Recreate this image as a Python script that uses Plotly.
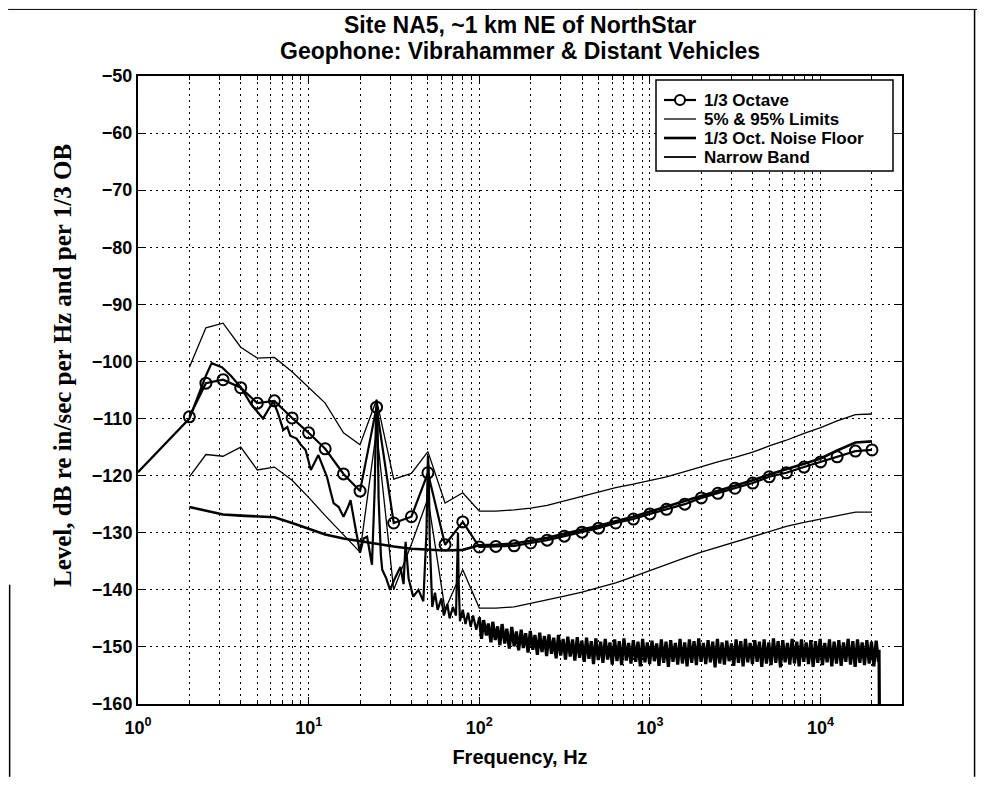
import plotly.graph_objects as go

# 1/3 octave band centre frequencies, Hz
toct_freq = [2, 2.5, 3.15, 4, 5, 6.3, 8, 10, 12.5, 16, 20, 25, 31.5, 40, 50, 63, 80,
             100, 125, 160, 200, 250, 315, 400, 500, 630, 800, 1000, 1250, 1600, 2000,
             2500, 3150, 4000, 5000, 6300, 8000, 10000, 12500, 16000, 20000]

toct_level = [-109.7, -103.8, -103.2, -104.6, -107.3, -106.9, -109.9, -112.5, -115.3, -119.7,
              -122.7, -108.0, -128.3, -127.2, -119.5, -132.1, -128.1, -132.5, -132.4, -132.3,
              -131.8, -131.3, -130.6, -129.9, -129.2, -128.3, -127.6, -126.7, -125.9, -125.0,
              -123.9, -123.1, -122.2, -121.3, -120.2, -119.5, -118.5, -117.6, -116.7, -115.7,
              -115.5]

upper_95 = [-101.0, -94.1, -93.3, -97.5, -99.4, -99.3, -101.8, -104.5, -107.3, -112.5,
            -114.6, -106.7, -120.6, -119.6, -115.8, -124.8, -123.0, -126.2, -126.2, -126.0,
            -125.7, -125.2, -124.4, -123.6, -122.8, -122.1, -121.5, -120.9, -120.2, -119.3,
            -118.4, -117.6, -116.8, -115.9, -114.8, -113.8, -112.6, -111.6, -110.4, -109.3,
            -109.2]

lower_5 = [-120.2, -116.3, -116.6, -115.0, -119.0, -118.5, -120.8, -123.8, -127.0, -130.3,
           -133.4, -112.0, -140.0, -132.0, -124.0, -143.5, -136.5, -143.2, -143.2, -143.0,
           -142.4, -141.8, -141.1, -140.4, -139.6, -138.8, -137.7, -136.6, -135.5, -134.4,
           -133.4, -132.5, -131.6, -130.7, -129.8, -128.9, -128.2, -127.6, -127.0, -126.4,
           -126.4]

noise_floor = [-125.5, -126.2, -126.8, -127.0, -127.1, -127.3, -128.3, -129.3, -130.3, -131.0,
               -131.5, -132.0, -132.4, -132.8, -133.0, -133.1, -133.0, -132.2, -132.1, -131.9,
               -131.4, -130.9, -130.2, -129.5, -128.8, -128.0, -127.2, -126.3, -125.4, -124.5,
               -123.6, -122.7, -121.8, -120.8, -119.8, -118.8, -117.9, -117.0, -115.6, -114.2,
               -114.0]

# narrow band spectrum below 100 Hz (tonal peaks of the vibrahammer)
nb_low_freq = [1, 2, 2.5, 2.7, 3.1, 3.5, 4, 4.6, 5.4, 6.2,
               6.6, 7.1, 7.5, 7.8, 8.5, 9, 9.6, 10.3, 11.4, 12,
               12.8, 13.5, 14, 15, 16, 17, 17.6, 18.5, 20, 21,
               22, 23.5, 24.4, 24.8, 25, 25.3, 25.7, 26.5, 27, 28.5,
               30, 32, 34.5, 36, 37, 38.5, 41, 44, 47, 49,
               49.6, 50, 50.5, 51.2, 53, 55, 57, 60, 62, 65,
               67, 70, 73, 74.5, 75, 75.6, 77, 80, 83, 86,
               89, 92, 96, 100]
nb_low_level = [-119.4, -110.0, -102.5, -100.3, -101.0, -102.5, -104.5, -107.5, -110.0, -107.0,
                -109.0, -112.0, -111.5, -113.0, -113.5, -114.6, -115.5, -119.0, -116.4, -118.0,
                -120.2, -123.0, -124.8, -125.5, -127.2, -125.5, -124.3, -128.0, -133.5, -131.0,
                -130.7, -135.6, -122.0, -110.0, -106.7, -109.0, -124.0, -134.0, -136.5, -138.0,
                -140.0, -138.0, -136.0, -139.0, -131.6, -138.0, -141.2, -140.0, -142.0, -130.0,
                -119.0, -116.5, -118.5, -131.0, -143.0, -140.5, -143.5, -141.5, -144.5, -142.5,
                -145.0, -143.0, -144.5, -136.0, -130.0, -138.0, -145.5, -143.5, -146.0, -144.0,
                -146.5, -144.5, -147.0, -144.8]

# narrow band spectrum above 100 Hz (broadband noise, dense)
nb_high_freq = [100, 103, 106, 110, 113, 117, 120, 124, 128, 132,
                136, 141, 145, 150, 155, 160, 165, 170, 176, 181,
                187, 193, 199, 206, 212, 219, 226, 233, 241, 248,
                256, 265, 273, 282, 291, 300, 310, 320, 330, 341,
                352, 363, 375, 387, 399, 412, 425, 439, 453, 467,
                482, 498, 514, 530, 547, 565, 583, 601, 621, 641,
                661, 682, 704, 727, 750, 774, 799, 825, 851, 878,
                906, 935, 965, 996, 1028, 1061, 1095, 1130, 1166, 1204,
                1242, 1282, 1323, 1365, 1409, 1454, 1501, 1549, 1599, 1650,
                1703, 1757, 1813, 1871, 1931, 1993, 2057, 2123, 2191, 2261,
                2333, 2408, 2485, 2565, 2647, 2731, 2819, 2909, 3002, 3098,
                3197, 3300, 3405, 3514, 3627, 3743, 3863, 3986, 4114, 4246,
                4381, 4522, 4666, 4816, 4970, 5129, 5293, 5462, 5637, 5817,
                6004, 6196, 6394, 6599, 6810, 7028, 7253, 7485, 7724, 7972,
                8227, 8490, 8762, 9042, 9331, 9630, 9938, 10260, 10580, 10920,
                11270, 11630, 12000, 12390, 12790, 13200, 13620, 14050, 14500, 14970,
                15450, 15940, 16450, 16980, 17520, 18080, 18660, 19260, 19870, 20510,
                21160, 21840, 22000, 22150]
nb_high_level = [-144.8, -148.6, -145.3, -148.0, -145.9, -149.2, -145.6, -148.8, -146.4, -149.7,
                 -146.0, -149.4, -146.8, -150.3, -146.5, -149.9, -147.3, -150.6, -147.0, -150.2,
                 -147.6, -151.0, -147.2, -150.5, -147.9, -151.4, -147.5, -150.9, -148.1, -151.6,
                 -147.8, -151.2, -148.4, -152.0, -147.9, -151.5, -148.6, -152.2, -148.2, -151.7,
                 -148.7, -152.4, -148.3, -151.9, -148.9, -152.6, -148.4, -152.1, -149.0, -153.0,
                 -148.5, -152.3, -149.1, -152.8, -148.6, -152.2, -149.2, -153.1, -148.7, -152.5,
                 -149.0, -153.2, -148.5, -152.4, -149.3, -152.9, -148.8, -152.6, -149.1, -153.4,
                 -148.6, -152.7, -149.2, -153.0, -148.9, -152.5, -149.4, -153.3, -148.7, -152.8,
                 -149.1, -153.5, -148.8, -152.6, -149.3, -153.1, -148.6, -152.9, -149.2, -153.4,
                 -148.7, -152.8, -149.0, -153.2, -148.5, -152.6, -149.3, -153.0, -148.8, -152.7,
                 -149.1, -153.6, -148.6, -152.9, -149.2, -153.1, -148.9, -152.5, -149.4, -153.3,
                 -148.7, -152.8, -149.0, -153.4, -148.6, -152.7, -149.3, -153.0, -148.8, -152.6,
                 -149.1, -153.5, -148.7, -152.9, -149.2, -153.2, -148.5, -152.8, -149.0, -153.6,
                 -148.8, -152.7, -149.3, -153.1, -148.6, -152.9, -149.1, -153.4, -148.7, -152.6,
                 -149.2, -153.0, -148.8, -153.5, -149.0, -152.8, -148.6, -153.2, -149.3, -152.7,
                 -148.7, -153.4, -149.1, -152.9, -148.8, -153.3, -149.2, -152.6, -148.6, -153.1,
                 -149.0, -153.5, -148.7, -152.8, -149.2, -153.2, -148.8, -152.9, -149.1, -153.4,
                 -148.9, -152.6, -150.5, -166.0]

x_major = [1, 10, 100, 1000, 10000]
x_major_text = ['10<sup>0</sup>', '10<sup>1</sup>', '10<sup>2</sup>', '10<sup>3</sup>', '10<sup>4</sup>']
x_minor = [m * d for d in x_major for m in range(2, 10) if m * d < 30000]

legend_names = ['1/3 Octave', '5% & 95% Limits', '1/3 Oct. Noise Floor', 'Narrow Band']
legend_widths = [2.2, 1.3, 2.6, 1.8]

fig = go.Figure()

# narrow band: the noisy part above 100 Hz is drawn heavier so it reads as a solid band
fig.add_trace(go.Scatter(x=nb_low_freq, y=nb_low_level, mode='lines', name='Narrow Band',
                         line=dict(color='black', width=2.2)))
fig.add_trace(go.Scatter(x=nb_high_freq, y=nb_high_level, mode='lines', name='Narrow Band',
                         line=dict(color='black', width=3.2)))
fig.add_trace(go.Scatter(x=toct_freq, y=upper_95, mode='lines', name='5% & 95% Limits',
                         line=dict(color='black', width=1.3)))
fig.add_trace(go.Scatter(x=toct_freq, y=lower_5, mode='lines', name='5% & 95% Limits',
                         line=dict(color='black', width=1.3)))
fig.add_trace(go.Scatter(x=toct_freq, y=noise_floor, mode='lines', name='1/3 Oct. Noise Floor',
                         line=dict(color='black', width=2.6)))
fig.add_trace(go.Scatter(x=toct_freq, y=toct_level, mode='lines+markers', name='1/3 Octave',
                         line=dict(color='black', width=2.2),
                         marker=dict(symbol='circle-open', size=11, color='black',
                                     line=dict(width=2))))

# the page body adds 8px around the figure, so the figure is 16px smaller than the window
fig.update_layout(
    width=969, height=769,
    margin=dict(l=130, r=75, t=68, b=73),
    paper_bgcolor='white', plot_bgcolor='white',
    font=dict(family='Liberation Sans, Arial', color='black'),
    showlegend=False,
)


def px(x, y):
    # page pixel -> paper coordinates of the axes box (x 138..902, y 76..704 on the page)
    return (x - 138) / 764, (704 - y) / 628


# legend box drawn by hand so its rows sit as tight as in the original
bx0, by0 = px(656, 80)
bx1, by1 = px(893, 171)
fig.add_shape(type='rect', xref='paper', yref='paper', x0=bx0, y0=by0, x1=bx1, y1=by1,
              line=dict(color='black', width=1.5), fillcolor='white', layer='above')
for i, name in enumerate(legend_names):
    row = 100 + 19 * i
    lx0, ly = px(664, row)
    lx1, _ = px(696, row)
    tx, _ = px(702, row)
    fig.add_shape(type='line', xref='paper', yref='paper', x0=lx0, x1=lx1, y0=ly, y1=ly,
                  line=dict(color='black', width=legend_widths[i]), layer='above')
    fig.add_annotation(text=name, xref='paper', yref='paper', x=tx, y=ly,
                       xanchor='left', yanchor='middle', showarrow=False,
                       font=dict(size=17, family='Liberation Sans, Arial', color='black',
                                 weight='bold'))
cx, cy = px(680, 100)
fig.add_shape(type='circle', xref='paper', yref='paper', xsizemode='pixel', ysizemode='pixel',
              xanchor=cx, yanchor=cy, x0=-5, x1=5, y0=-5, y1=5,
              line=dict(color='black', width=2), fillcolor='white', layer='above')

fig.add_annotation(text='<b>Site NA5, ~1 km NE of NorthStar</b>', xref='paper', yref='paper',
                   x=0.5, y=1.0, yshift=51, showarrow=False, yanchor='middle',
                   font=dict(size=23, family='Liberation Sans, Arial', color='black'))
fig.add_annotation(text='<b>Geophone: Vibrahammer & Distant Vehicles</b>', xref='paper', yref='paper',
                   x=0.5, y=1.0, yshift=25, showarrow=False, yanchor='middle',
                   font=dict(size=23, family='Liberation Sans, Arial', color='black'))

# y axis title, Times bold as in the original
fig.add_annotation(text='<b>Level, dB re in/sec per Hz and per 1/3 OB</b>', xref='paper', yref='paper',
                   x=0, xshift=-76, y=0.5, yshift=24, textangle=-90, showarrow=False,
                   xanchor='center', yanchor='middle',
                   font=dict(size=25, family='Liberation Serif, Times New Roman', color='black'))

fig.update_xaxes(type='log', range=[0, 4.477],
                 tickvals=x_major, ticktext=x_major_text,
                 tickfont=dict(size=18, color='black', weight='bold'),
                 ticklabelstandoff=6,
                 title=dict(text='Frequency, Hz', standoff=13,
                            font=dict(size=20, color='black', weight='bold')),
                 showline=True, linecolor='black', linewidth=2, mirror='ticks',
                 ticks='inside', ticklen=7, tickcolor='black',
                 showgrid=True, gridcolor='black', gridwidth=1.2, griddash='2px,4px',
                 zeroline=False,
                 minor=dict(tickvals=x_minor, ticks='inside', ticklen=4, tickcolor='black',
                            showgrid=True, gridcolor='black', gridwidth=1.2, griddash='2px,4px'))

fig.update_yaxes(range=[-160, -50], dtick=10,
                 tickfont=dict(size=18, color='black', weight='bold'),
                 showline=True, linecolor='black', linewidth=2, mirror='ticks',
                 ticks='inside', ticklen=7, tickcolor='black',
                 showgrid=True, gridcolor='black', gridwidth=1.2, griddash='2px,4px',
                 zeroline=False)

# edges of the scanned page
fig.add_shape(type='line', xref='paper', yref='paper', x0=1.095, x1=1.095, y0=-0.116, y1=1.106,
              line=dict(color='black', width=1.5))
fig.add_shape(type='line', xref='paper', yref='paper', x0=-0.168, x1=-0.168, y0=-0.116, y1=0.19,
              line=dict(color='black', width=1.5))
fig.add_shape(type='line', xref='paper', yref='paper', x0=-0.17, x1=1.1, y0=1.106, y1=1.106,
              line=dict(color='black', width=1))

fig.write_html("out.html")
